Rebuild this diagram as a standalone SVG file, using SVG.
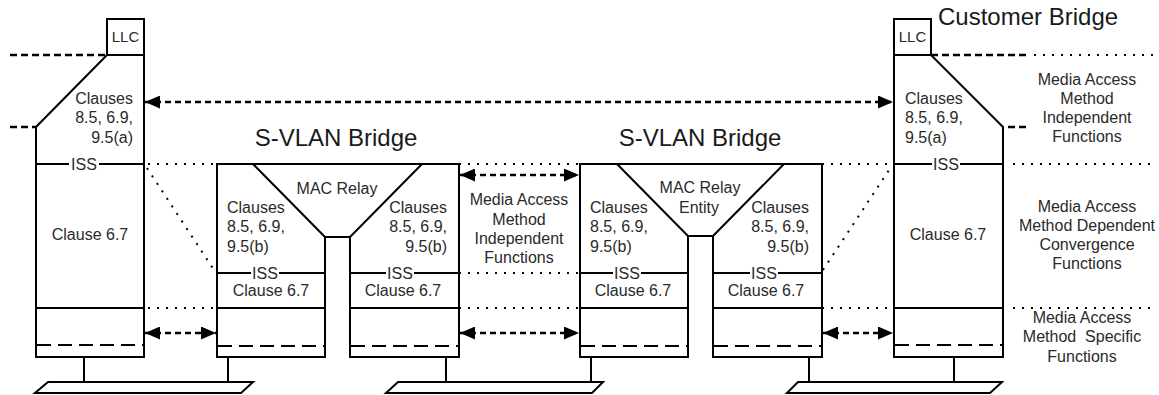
<svg xmlns="http://www.w3.org/2000/svg" width="1159" height="395" viewBox="0 0 1159 395">
<style>
.b{fill:#fff;stroke:#000;stroke-width:2;stroke-linejoin:miter}
.l{fill:none;stroke:#000;stroke-width:2}
.d{fill:none;stroke:#000;stroke-width:2;stroke-dasharray:14 7}
.td{fill:none;stroke:#000;stroke-width:2.5;stroke-dasharray:7 4}
.dot{fill:none;stroke:#000;stroke-width:2;stroke-dasharray:2 7}
.ar{fill:none;stroke:#000;stroke-width:2.5;stroke-dasharray:6 4}
text{font-family:"Liberation Sans",Arial,sans-serif;font-size:16px;fill:#2a2a2a}
.t{font-size:24px;fill:#1a1a1a}
.c{text-anchor:middle}
.r{text-anchor:end}
.llc{font-size:15px}
</style>
<defs>
<marker id="ah" viewBox="0 0 15 13" refX="15" refY="6.5" markerWidth="15" markerHeight="13" markerUnits="userSpaceOnUse" orient="auto-start-reverse">
<path d="M0,0 L15,6.5 L0,13 Z" fill="#000"/>
</marker>
</defs>

<g id="lans">
<path class="b" d="M48,382 L253,382 L241,393 L35,393 Z"/>
<path class="b" d="M398,382 L603,382 L592,393 L386,393 Z"/>
<path class="b" d="M798,382 L1002,382 L990,393 L787,393 Z"/>
<path class="l" d="M84,357V382M228,357V382M446,357V382M591,357V382M809,357V382M954,357V382"/>
</g>

<g id="connectors">
<path class="td" d="M10,55H107M10,127H36M931,55H1030M1008,127H1030"/>
<path class="dot" d="M1034,55H1159"/>
<path class="dot" d="M148,164H217M459,164H580M822,164H894M1013,164H1155"/>
<path class="dot" d="M459,273H580"/>
<path class="dot" d="M148,308H217M459,308H580M822,308H894M1013,308H1155"/>
<path class="dot" d="M147,168L214,270M823,270L891,167"/>
<path class="ar" d="M145,102H893" marker-start="url(#ah)" marker-end="url(#ah)"/>
<path class="ar" d="M460,175H579" marker-start="url(#ah)" marker-end="url(#ah)"/>
<path class="ar" d="M145,333H216" marker-start="url(#ah)" marker-end="url(#ah)"/>
<path class="ar" d="M460,333H579" marker-start="url(#ah)" marker-end="url(#ah)"/>
<path class="ar" d="M823,333H893" marker-start="url(#ah)" marker-end="url(#ah)"/>
</g>

<g id="customer-bridge-left">
<path class="b" d="M107,55 L36,127 L36,357 L144,357 L144,55 Z"/>
<rect class="b" x="107" y="19" width="37" height="36"/>
<path class="l" d="M36,164H69M99,164H144M36,308H144"/>
<path class="d" d="M37,345H143"/>
<text x="125.5" y="42" class="c llc">LLC</text>
<text class="r" x="133" y="104">Clauses</text>
<text class="r" x="133" y="123">8.5, 6.9,</text>
<text class="r" x="133" y="143">9.5(a)</text>
<text class="c" x="84" y="170">ISS</text>
<text class="c" x="90" y="240">Clause 6.7</text>
</g>

<g id="svlan-bridge-1">
<path class="b" d="M217,164 L459,164 L459,357 L350,357 L350,237 L325,237 L325,357 L217,357 Z"/>
<path class="l" d="M253,164 L325,237 M350,237 L422,164"/>
<path class="l" d="M217,273H251M279,273H325M350,273H386M414,273H459M217,308H325M350,308H459"/>
<path class="d" d="M218,346H324M351,346H458"/>
<text class="t c" x="336" y="146">S-VLAN Bridge</text>
<text class="c" x="337" y="194">MAC Relay</text>
<text x="227" y="213">Clauses</text>
<text x="227" y="232">8.5, 6.9,</text>
<text x="227" y="252">9.5(b)</text>
<text class="r" x="447" y="213">Clauses</text>
<text class="r" x="447" y="232">8.5, 6.9,</text>
<text class="r" x="447" y="252">9.5(b)</text>
<text class="c" x="265" y="279">ISS</text>
<text class="c" x="271" y="296">Clause 6.7</text>
<text class="c" x="400" y="279">ISS</text>
<text class="c" x="403" y="296">Clause 6.7</text>
</g>

<g id="svlan-bridge-2">
<path class="b" d="M580,164 L822,164 L822,357 L713,357 L713,236 L688,236 L688,357 L580,357 Z"/>
<path class="l" d="M617,164 L688,236 M713,236 L784,164"/>
<path class="l" d="M580,273H613M641,273H688M713,273H750M778,273H822M580,308H688M713,308H822"/>
<path class="d" d="M581,346H687M714,346H821"/>
<text class="t c" x="700" y="146">S-VLAN Bridge</text>
<text class="c" x="700" y="193">MAC Relay</text>
<text class="c" x="699" y="213">Entity</text>
<text x="590" y="213">Clauses</text>
<text x="590" y="232">8.5, 6.9,</text>
<text x="590" y="252">9.5(b)</text>
<text class="r" x="809" y="213">Clauses</text>
<text class="r" x="809" y="232">8.5, 6.9,</text>
<text class="r" x="809" y="252">9.5(b)</text>
<text class="c" x="627" y="279">ISS</text>
<text class="c" x="633" y="296">Clause 6.7</text>
<text class="c" x="764" y="279">ISS</text>
<text class="c" x="766" y="296">Clause 6.7</text>
</g>

<g id="customer-bridge-right">
<path class="b" d="M894,55 L931,55 L1003,127 L1003,357 L894,357 Z"/>
<rect class="b" x="894" y="19" width="37" height="36"/>
<path class="l" d="M894,164H932M960,164H1003M894,308H1003"/>
<path class="d" d="M895,345H1002"/>
<text x="912.5" y="42" class="c llc">LLC</text>
<text class="t" x="938" y="25">Customer Bridge</text>
<text x="905" y="104">Clauses</text>
<text x="905" y="123">8.5, 6.9,</text>
<text x="905" y="143">9.5(a)</text>
<text class="c" x="946" y="170">ISS</text>
<text class="c" x="948" y="240">Clause 6.7</text>
</g>

<g id="layer-labels">
<text class="c" x="519" y="205">Media Access</text>
<text class="c" x="519" y="225">Method</text>
<text class="c" x="519" y="244">Independent</text>
<text class="c" x="519" y="263">Functions</text>
<text class="c" x="1087" y="85">Media Access</text>
<text class="c" x="1087" y="104">Method</text>
<text class="c" x="1087" y="123">Independent</text>
<text class="c" x="1087" y="142">Functions</text>
<text class="c" x="1087" y="212">Media Access</text>
<text class="c" x="1087" y="231">Method Dependent</text>
<text class="c" x="1087" y="250">Convergence</text>
<text class="c" x="1087" y="269">Functions</text>
<text class="c" x="1082" y="323">Media Access</text>
<text class="c" x="1082" y="342" xml:space="preserve">Method  Specific</text>
<text class="c" x="1082" y="362">Functions</text>
</g>
</svg>
